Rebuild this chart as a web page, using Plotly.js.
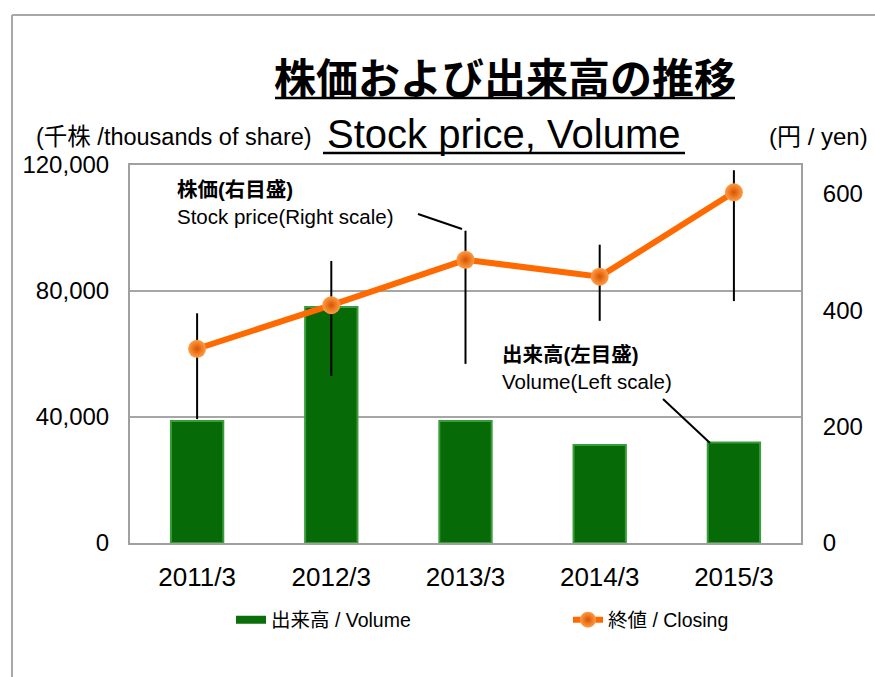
<!DOCTYPE html>
<html>
<head>
<meta charset="utf-8">
<script src="https://cdn.plot.ly/plotly-3.0.1.min.js"></script>
<style>
  html, body { margin: 0; padding: 0; background: #fff; }
  #plot { width: 875px; height: 677px; }
</style>
</head>
<body>
<div id="plot"></div>
<script>
const categories = ["2011/3", "2012/3", "2013/3", "2014/3", "2015/3"];
const volume = [38700, 74900, 38700, 31100, 31900];
const closing = [334, 409, 487, 458, 603];
const highPrice = [395, 485, 537, 513, 641];
const lowPrice = [213, 287, 308, 382, 416];

const volumeTicks = [0, 40000, 80000, 120000];
const priceTicks = [0, 200, 400, 600];

const FONT = "'Liberation Sans', Arial, 'Noto Sans CJK JP', sans-serif";
const JP_FONT = "'Noto Sans CJK JP', 'Liberation Sans', sans-serif";

// plot area in pixels: left 130, right 801, top 165, bottom 543
const PL = 130, PW = 671, PB = 543, PH = 378;
const px = (x) => (x - PL) / PW;
const py = (y) => (PB - y) / PH;

// high-low lines built from the price arrays
const hlX = [];
const hlY = [];
categories.forEach((c, i) => {
    hlX.push(c, c, null);
    hlY.push(highPrice[i], lowPrice[i], null);
});

const traces = [
    {
        type: "bar",
        x: categories,
        y: volume,
        name: "出来高 / Volume",
        width: 0.39,
        marker: { color: "#066a06", line: { color: "#3a9c3a", width: 2 } },
        yaxis: "y",
        showlegend: false
    },
    {
        // legend entry only: flat green bar like the original key
        type: "scatter",
        mode: "lines",
        x: [null],
        y: [null],
        name: "出来高 / Volume",
        line: { color: "#0a6e0a", width: 8 },
        legend: "legend",
        hoverinfo: "skip"
    },
    {
        type: "scatter",
        mode: "lines",
        x: hlX,
        y: hlY,
        yaxis: "y2",
        line: { color: "#000", width: 2 },
        showlegend: false,
        hoverinfo: "skip"
    },
    {
        type: "scatter",
        mode: "lines+markers",
        x: categories,
        y: closing,
        name: "終値 / Closing",
        yaxis: "y2",
        legend: "legend2",
        line: { color: "#ff6a00", width: 6 },
        marker: {
            size: 18,
            color: "#ff9d45",
            gradient: { type: "radial", color: "#d95300" },
            line: { width: 0 }
        }
    }
];

const legendBase = {
    orientation: "h",
    xanchor: "left",
    y: py(620),
    yanchor: "middle",
    font: { size: 19.5, family: FONT },
    bgcolor: "rgba(0,0,0,0)"
};

const layout = {
    width: 875,
    height: 677,
    margin: { l: PL, r: 875 - PL - PW, t: PB - PH, b: 677 - PB },
    paper_bgcolor: "#fff",
    plot_bgcolor: "#fff",
    font: { family: FONT, color: "#000" },
    title: {
        text: "<b>株価および出来高の推移</b>",
        font: { family: JP_FONT, size: 42, color: "#000" },
        x: 505 / 875,
        xanchor: "center",
        y: 1 - 79 / 677,
        yanchor: "middle"
    },
    xaxis: {
        type: "category",
        showline: true,
        linecolor: "#a0a0a0",
        linewidth: 2,
        mirror: true,
        ticks: "",
        tickfont: { size: 26, family: FONT },
        ticklabelstandoff: 10,
        showgrid: false,
        zeroline: false
    },
    yaxis: {
        range: [0, 120000],
        tickvals: volumeTicks,
        tickformat: ",d",
        tickfont: { size: 24, family: FONT },
        ticklabelstandoff: 14,
        showgrid: true,
        gridcolor: "#a6a6a6",
        gridwidth: 2,
        showline: true,
        linecolor: "#a0a0a0",
        linewidth: 2,
        zeroline: false,
        ticks: ""
    },
    yaxis2: {
        overlaying: "y",
        side: "right",
        range: [0, 650],
        tickvals: priceTicks,
        tickfont: { size: 24, family: FONT },
        ticklabelstandoff: 15,
        showgrid: false,
        showline: true,
        linecolor: "#a0a0a0",
        linewidth: 2,
        zeroline: false,
        ticks: ""
    },
    legend: Object.assign({}, legendBase, { x: px(231) }),
    legend2: Object.assign({}, legendBase, { x: px(568) }),
    annotations: [
        {
            text: "Stock price, Volume",
            xref: "paper", yref: "paper",
            x: px(504), y: py(134),
            xanchor: "center", yanchor: "middle",
            showarrow: false,
            font: { size: 40, family: FONT }
        },
        {
            text: "(千株 /thousands of share)",
            xref: "paper", yref: "paper",
            x: px(174), y: py(137),
            xanchor: "center", yanchor: "middle",
            showarrow: false,
            font: { size: 23.5, family: FONT }
        },
        {
            text: "(円 / yen)",
            xref: "paper", yref: "paper",
            x: px(818), y: py(137),
            xanchor: "center", yanchor: "middle",
            showarrow: false,
            font: { size: 24, family: FONT }
        },
        {
            text: "<b>株価(右目盛)</b><br>Stock price(Right scale)",
            xref: "paper", yref: "paper",
            x: px(175), y: py(203),
            xanchor: "left", yanchor: "middle",
            align: "left",
            showarrow: false,
            font: { size: 20.5, family: FONT }
        },
        {
            text: "<b>出来高(左目盛)</b><br>Volume(Left scale)",
            xref: "paper", yref: "paper",
            x: px(500), y: py(368),
            xanchor: "left", yanchor: "middle",
            align: "left",
            showarrow: false,
            font: { size: 20.5, family: FONT }
        }
    ],
    shapes: [
        // outer frame (top and left)
        { type: "line", xref: "paper", yref: "paper", x0: px(12), x1: px(876), y0: py(15), y1: py(15), line: { color: "#a8a8a8", width: 2 } },
        { type: "line", xref: "paper", yref: "paper", x0: px(12), x1: px(12), y0: py(15), y1: py(690), line: { color: "#a8a8a8", width: 2 } },
        // title underlines
        { type: "line", xref: "paper", yref: "paper", x0: px(275), x1: px(735), y0: py(98), y1: py(98), line: { color: "#000", width: 2.5 } },
        { type: "line", xref: "paper", yref: "paper", x0: px(323), x1: px(685), y0: py(153), y1: py(153), line: { color: "#000", width: 2.5 } },
        // leader lines for the labels
        { type: "line", xref: "paper", yref: "paper", x0: px(418), x1: px(462), y0: py(214), y1: py(229), line: { color: "#000", width: 2 } },
        { type: "line", xref: "paper", yref: "paper", x0: px(663), x1: px(710), y0: py(399), y1: py(443), line: { color: "#000", width: 2 } }
    ]
};

Plotly.newPlot("plot", traces, layout, { displayModeBar: false, responsive: false });
</script>
</body>
</html>
